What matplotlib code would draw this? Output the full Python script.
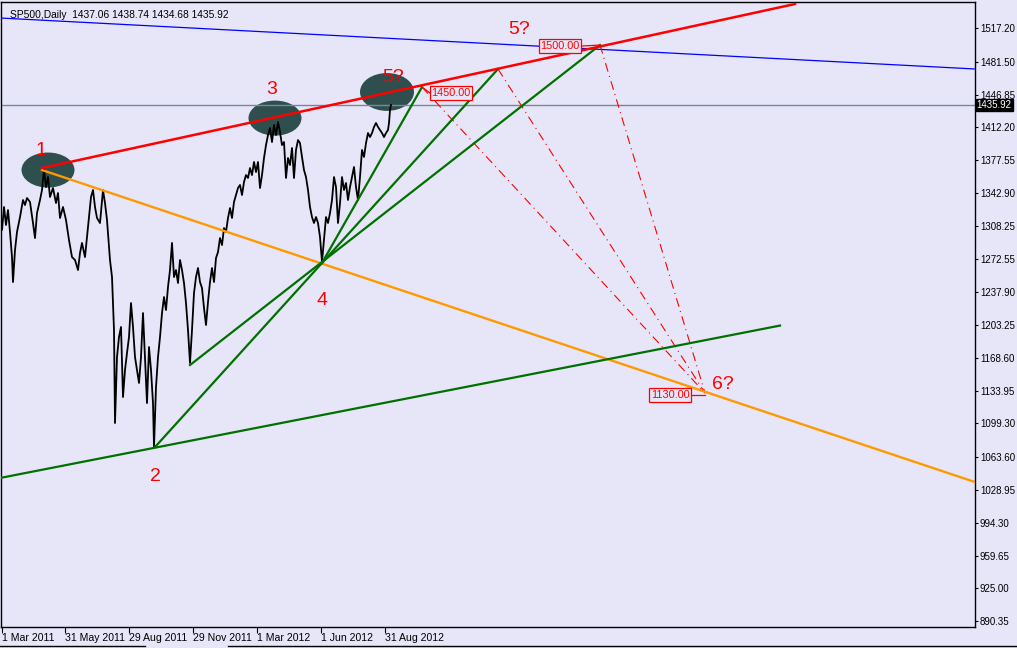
import matplotlib
matplotlib.use('Agg')
import matplotlib.pyplot as plt
from matplotlib.patches import Ellipse
from matplotlib.lines import Line2D

# ---------------- data ----------------
bars = [-2, 0, 2, 4, 6, 8, 10, 11, 13, 15, 18, 21, 23, 25, 28, 31, 33, 35, 38, 40,
        42, 44, 46, 48, 51, 54, 56, 58, 61, 64, 67, 70, 73, 76, 78, 80, 83, 86, 89, 91,
        93, 95, 98, 101, 103, 105, 108, 110, 112, 113, 115, 117, 119, 121, 123, 125, 127, 129, 131, 133,
        135, 137, 139, 141, 143, 145, 147, 149, 151, 152, 154, 156, 158, 160, 162, 164, 166, 168, 170, 172,
        174, 176, 178, 180, 182, 184, 186, 188, 190, 192, 194, 196, 198, 200, 202, 204, 206, 208, 210, 212,
        214, 216, 218, 220, 222, 224, 226, 228, 230, 232, 234, 236, 238, 240, 242, 244, 246, 248, 250, 252,
        254, 256, 258, 260, 262, 264, 266, 268, 270, 272, 274, 276, 278, 280, 282, 284, 286, 288, 290, 292,
        294, 296, 298, 300, 302, 304, 306, 308, 310, 312, 314, 316, 318, 320, 322, 324, 326, 328, 330, 332,
        334, 336, 338, 340, 342, 344, 346, 348, 350, 352, 354, 356, 358, 360, 362, 364, 366, 368, 370, 372,
        374, 376, 378, 380, 382, 384, 386, 387, 388, 389]
closes = [1330.1, 1303.7, 1328.0, 1309.0, 1324.8, 1301.6, 1275.1, 1248.7, 1282.5, 1301.6,
          1317.4, 1335.4, 1330.1, 1337.5, 1333.3, 1311.1, 1295.2, 1321.6, 1335.4, 1346.0,
          1368.0, 1349.1, 1359.7, 1338.6, 1348.1, 1332.2, 1342.8, 1316.4, 1328.0, 1314.3,
          1293.1, 1275.1, 1272.0, 1261.4, 1279.4, 1290.0, 1275.1, 1306.9, 1338.6, 1346.0,
          1328.0, 1316.4, 1311.1, 1346.0, 1332.2, 1314.3, 1272.0, 1254.0, 1198.0, 1099.7,
          1169.4, 1190.6, 1201.2, 1127.2, 1155.7, 1173.7, 1190.6, 1226.5, 1201.2, 1169.4,
          1155.7, 1142.0, 1169.4, 1215.9, 1169.4, 1120.8, 1180.0, 1155.7, 1120.8, 1074.3,
          1137.7, 1169.4, 1190.6, 1215.9, 1232.9, 1219.1, 1243.4, 1261.4, 1290.0, 1254.0,
          1261.4, 1247.7, 1272.0, 1261.4, 1247.7, 1226.5, 1198.0, 1163.1, 1198.0, 1237.1,
          1254.0, 1263.5, 1248.7, 1242.4, 1221.2, 1203.3, 1227.6, 1248.7, 1263.5, 1248.7,
          1274.1, 1280.4, 1295.2, 1287.8, 1305.8, 1301.6, 1316.4, 1326.9, 1316.4, 1333.3,
          1340.7, 1348.1, 1351.3, 1340.7, 1354.4, 1361.8, 1358.7, 1369.2, 1361.8, 1375.6,
          1365.0, 1375.6, 1348.1, 1361.8, 1379.8, 1393.5, 1404.1, 1411.5, 1396.7, 1414.7,
          1404.1, 1417.8, 1407.3, 1393.5, 1396.7, 1358.7, 1379.8, 1372.4, 1390.4, 1358.7,
          1388.3, 1398.8, 1395.6, 1380.9, 1367.1, 1359.7, 1346.0, 1328.0, 1317.4, 1311.1,
          1317.4, 1311.1, 1296.3, 1270.0, 1293.1, 1317.4, 1311.1, 1321.6, 1335.4, 1359.7,
          1349.1, 1311.1, 1332.2, 1359.7, 1346.0, 1353.4, 1335.4, 1349.1, 1359.7, 1370.3,
          1349.1, 1335.4, 1359.7, 1388.3, 1380.9, 1395.6, 1406.2, 1402.0, 1406.2, 1412.6,
          1416.8, 1412.6, 1409.4, 1406.2, 1402.0, 1406.2, 1409.4, 1416.8, 1430.5, 1435.92]

title = "SP500,Daily  1437.06 1438.74 1434.68 1435.92"
last_price = 1435.92

ytick_vals = [1517.20, 1481.50, 1446.85, 1412.20, 1377.55, 1342.90, 1308.25, 1272.55,
              1237.90, 1203.25, 1168.60, 1133.95, 1099.30, 1063.60, 1028.95, 994.30,
              959.65, 925.00, 890.35]
xtick_bars = [0, 63, 127, 191, 255, 319, 383]
xtick_labels = ['1 Mar 2011', '31 May 2011', '29 Aug 2011', '29 Nov 2011',
                '1 Mar 2012', '1 Jun 2012', '31 Aug 2012']

# trend lines: (bar, price) endpoints
red_trend = [(40, 1369.2), (793, 1542.6)]
blue_trend = [(-2, 1527.8), (973, 1473.9)]
orange_trend = [(40, 1367.1), (973, 1037.3)]
green_lines = [
    [(-2, 1041.6), (778, 1202.7)],
    [(153, 1074.3), (496, 1473.9)],
    [(188, 1161.0), (598, 1499.2)],
    [(320, 1268.8), (420, 1454.8)],
]
target_6 = (703, 1131.4)
projection_starts = [(420, 1454.8), (496, 1473.9), (598, 1499.2)]

# ellipses: center bar, center price, width (bars), height (price)
ellipses = [(46, 1367.1, 53, 37), (273, 1422.0, 53, 37), (385, 1449.6, 54, 40)]

wave_labels = ['1', '2', '3', '4', '5?', '5?', '6?']
wave_pos = [(39, 1388.0), (153, 1043.7), (270, 1451.7), (320, 1229.7),
            (391, 1464.4), (517, 1516.1), (721, 1139.9)]

price_boxes = ['1450.00', '1500.00', '1130.00']
price_box_pos = [(449, 1448.5), (558, 1498.2), (668, 1129.3)]

# ---------------- drawing ----------------
BG = '#E6E6F8'
FONT = 'Liberation Sans'
fig = plt.figure(figsize=(10.17, 6.48), dpi=100, facecolor=BG)
ax = fig.add_axes([1 / 1017, 21 / 648, 974 / 1017, 625 / 648])
ax.set_facecolor(BG)
ax.set_xlim(-1, 973)
ax.set_ylim(884.1, 1544.7)

for (cx, cy, w, h) in ellipses:
    ax.add_patch(Ellipse((cx, cy), w, h, facecolor='#2F4F4F', edgecolor='none', zorder=1))

# current price line
ax.axhline(last_price, color='#778899', lw=1.0, zorder=2)

# blue line
ax.plot([p[0] for p in blue_trend], [p[1] for p in blue_trend], color='#0000FF', lw=0.9, zorder=3)

# price series
ax.plot(bars, closes, color='black', lw=1.3, zorder=4)

# red dash-dot projections
for s in projection_starts:
    ax.plot([s[0], target_6[0]], [s[1], target_6[1]], color='#FF0000', lw=0.8,
            linestyle=(0, (8, 4, 1, 4)), zorder=3)

# orange
ax.plot([p[0] for p in orange_trend], [p[1] for p in orange_trend], color='#FF9900', lw=1.7, zorder=5)
# green
for ln in green_lines:
    ax.plot([p[0] for p in ln], [p[1] for p in ln], color='#007000', lw=1.6, zorder=5)
# red
ax.plot([p[0] for p in red_trend], [p[1] for p in red_trend], color='#FF0000', lw=1.8, zorder=6)

# wave labels
for t, (bx, py) in zip(wave_labels, wave_pos):
    ax.text(bx, py, t, color='#FF0000', fontsize=14, family=FONT,
            ha='center', va='center', zorder=7)

# price boxes with connectors
connectors = [[(420, 1454.8), (428, 1448.5)], [(580, 1498.2), (598, 1499.2)],
              [(690, 1129.3), (703, 1129.3)]]
for c in connectors:
    ax.plot([c[0][0], c[1][0]], [c[0][1], c[1][1]], color='#FF0000', lw=0.9, zorder=6)
for t, (bx, py) in zip(price_boxes, price_box_pos):
    ax.text(bx, py, t, color='#FF0000', fontsize=7.8, family=FONT, ha='center', va='center',
            bbox=dict(boxstyle='square,pad=0.15', fc=BG, ec='#FF0000', lw=0.9), zorder=8)

# title
ax.text(0.009, 0.987, title, transform=ax.transAxes, fontsize=7.4, family=FONT,
        ha='left', va='top', color='black', zorder=9)

# axes styling
for sp in ax.spines.values():
    sp.set_color('black')
    sp.set_linewidth(1.0)
ax.yaxis.tick_right()
ax.set_yticks(ytick_vals)
ax.set_yticklabels([f'{v:.2f}' for v in ytick_vals])
ax.tick_params(axis='y', direction='out', length=2.5, width=0.8, pad=1, labelsize=7.0,
               colors='black', left=False, right=True)
ax.set_xticks(xtick_bars)
ax.set_xticklabels(xtick_labels)
ax.tick_params(axis='x', direction='out', length=4, width=0.8, pad=0.5, labelsize=7.6, colors='black')
for lab in ax.get_xticklabels():
    lab.set_horizontalalignment('left')
for lab in ax.get_xticklabels() + ax.get_yticklabels():
    lab.set_family(FONT)

# current price tag
ax.annotate(f'{last_price:.2f}', xy=(1.0, last_price), xycoords=('axes fraction', 'data'),
            xytext=(1.2, 0), textcoords='offset points', fontsize=7.0, family=FONT,
            color='white', ha='left', va='center',
            bbox=dict(boxstyle='square,pad=0.12', fc='black', ec='black'), zorder=10,
            annotation_clip=False)

# bottom tab bar
fig.add_artist(Line2D([0, 145 / 1017], [2 / 648, 2 / 648], color='black', lw=1.0))
fig.add_artist(Line2D([228 / 1017, 1], [2 / 648, 2 / 648], color='black', lw=1.0))

fig.savefig('out.png', dpi=100, facecolor=BG)
